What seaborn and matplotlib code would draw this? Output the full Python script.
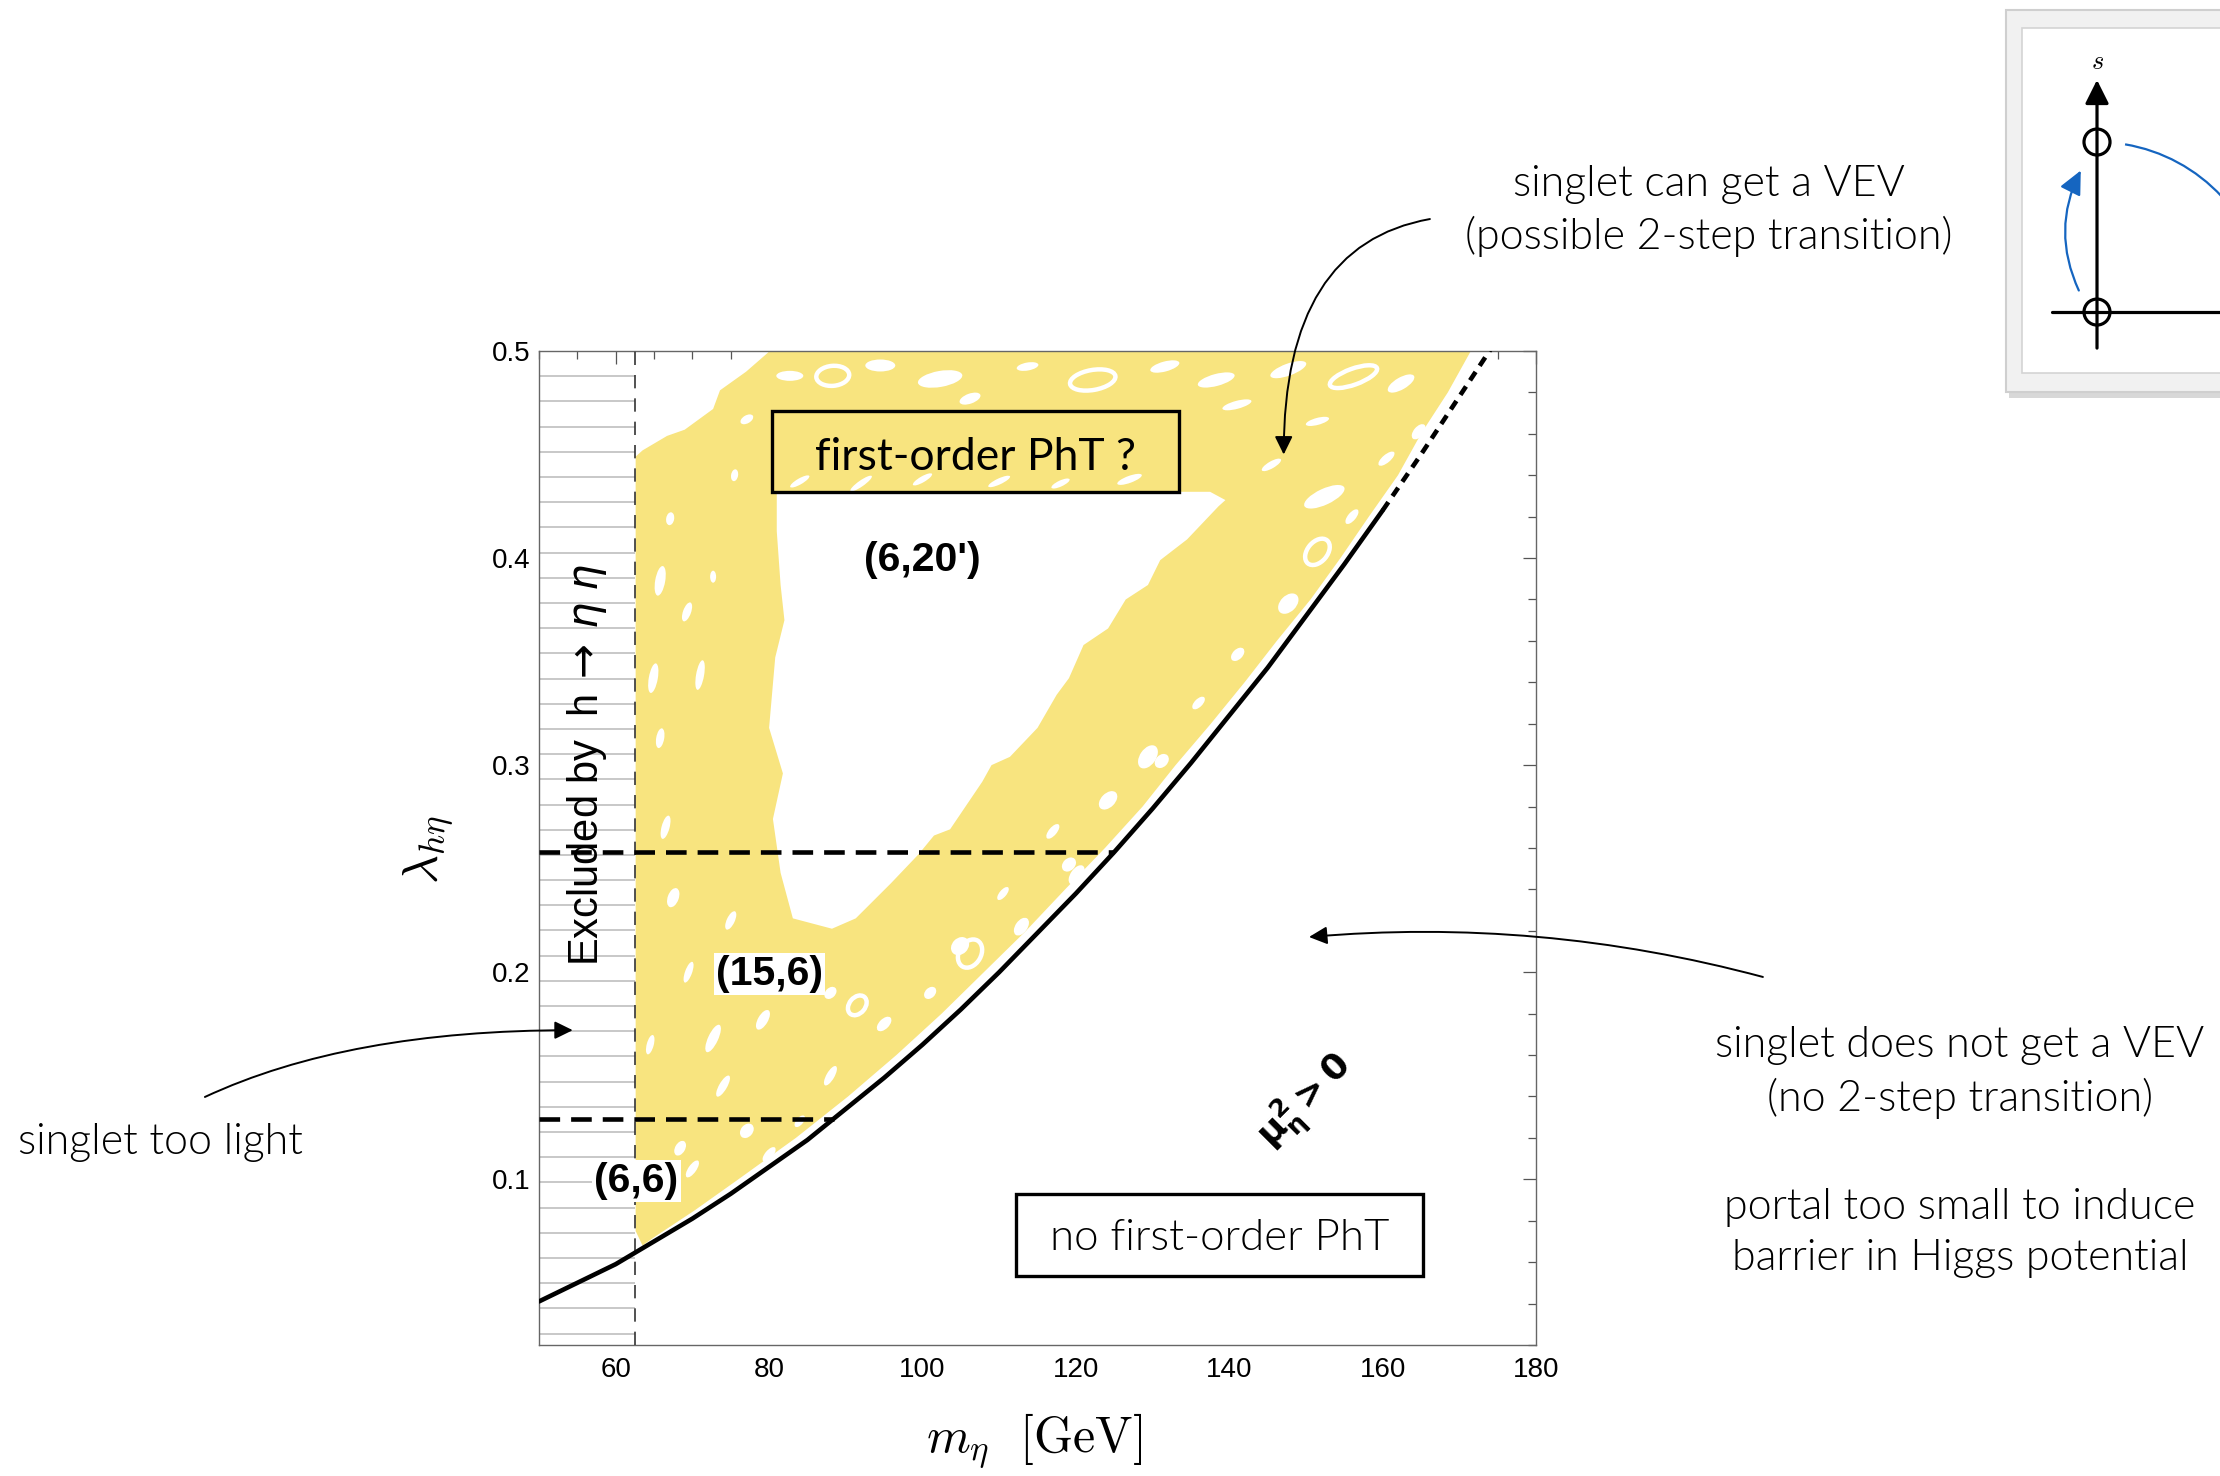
import numpy as np
import pandas as pd
import matplotlib
matplotlib.use("Agg")
import matplotlib.pyplot as plt
import seaborn as sns
from matplotlib.patches import Rectangle, Ellipse, Circle, Arc, FancyArrowPatch
from matplotlib.transforms import ScaledTranslation
from matplotlib import font_manager as fm

# ---------------- data ----------------
curve_m = [50, 55, 60, 65, 70, 75, 80, 85, 90, 95, 100, 105, 110, 115, 120,
           125, 130, 135, 140, 145, 150, 155, 160]
curve_lam = [0.041, 0.050, 0.059, 0.070, 0.081, 0.093, 0.106, 0.119, 0.134,
             0.149, 0.165, 0.182, 0.200, 0.219, 0.238, 0.258, 0.279, 0.301,
             0.324, 0.347, 0.372, 0.397, 0.423]
dotted_m = [160, 165, 170, 175]
dotted_lam = [0.423, 0.450, 0.478, 0.506]

kin_limit = 62.5                    # m_h / 2
dash_levels = [0.258, 0.129]
dash_ends = [125.0, 88.4]

# yellow (first-order PhT) region: outer boundary
region_outer_m = [62.6, 62.6, 63.5, 66.7, 69.0, 72.7, 73.6, 77.0, 80.1,
                  171.5, 168.5, 165.0, 162.0, 158.2, 154.5, 150.6, 146.2,
                  142.0, 137.6, 133.0, 128.7, 123.8, 118.6, 113.5, 108.0,
                  102.5, 96.6, 90.3, 83.5, 76.0, 70.3, 65.0, 63.5]
region_outer_lam = [0.075, 0.449, 0.452, 0.459, 0.462, 0.472, 0.481, 0.490,
                    0.500, 0.500, 0.480, 0.460, 0.440, 0.420, 0.400, 0.380,
                    0.360, 0.340, 0.320, 0.300, 0.280, 0.260, 0.240, 0.220,
                    0.200, 0.180, 0.160, 0.140, 0.120, 0.100, 0.085, 0.072,
                    0.068]
# inner white hole
hole_m = [81.0, 137.5, 139.5, 138.6, 134.5, 131.0, 129.4, 126.5, 124.2, 121.0,
          119.1, 117.5, 115.0, 111.4, 109.0, 107.8, 103.6, 101.5, 99.5, 95.9,
          91.3, 88.2, 83.1, 81.5, 80.5, 81.8, 80.0, 80.8, 82.0, 81.5, 81.0]
hole_lam = [0.432, 0.432, 0.428, 0.425, 0.409, 0.399, 0.387, 0.380, 0.366,
            0.358, 0.342, 0.334, 0.318, 0.304, 0.300, 0.292, 0.269, 0.266,
            0.257, 0.243, 0.226, 0.221, 0.226, 0.248, 0.274, 0.296, 0.318,
            0.352, 0.370, 0.387, 0.413]

# white speckles inside the yellow band (centre m, centre lambda, long, short, angle)
blob_m = [82.7, 94.5, 102.3, 106.2, 77.1, 113.7, 131.6, 138.3, 147.7, 162.4,
          164.7, 151.5, 152.4, 147.7, 141.1, 131.2, 129.4, 124.2, 120.1, 112.9,
          119.1, 67.1, 72.7, 65.8, 69.3, 64.9, 71.0, 65.8, 67.5, 72.7, 79.2,
          74.0, 68.4, 77.1, 98.8, 104.9,
          84.0, 92.0, 100.0, 110.0, 118.0, 127.0, 141.0, 145.5, 160.5, 156.0,
          136.0, 117.0, 110.5, 88.0, 84.5, 66.5, 75.5,
          66.0, 70.0, 80.0, 84.0, 64.5, 69.5, 75.0, 88.0, 95.0, 101.0, 97.5,
          104.0, 110.0, 115.5]
blob_lam = [0.488, 0.493, 0.4865, 0.477, 0.467, 0.4925, 0.4925, 0.486, 0.491,
            0.4843, 0.461, 0.466, 0.4296, 0.378, 0.3535, 0.302, 0.304, 0.283,
            0.247, 0.222, 0.252, 0.419, 0.391, 0.389, 0.374, 0.342, 0.3435,
            0.313, 0.236, 0.168, 0.177, 0.145, 0.115, 0.1234, 0.159, 0.2126,
            0.437, 0.436, 0.438, 0.437, 0.436, 0.438, 0.474, 0.445, 0.448,
            0.420, 0.330, 0.268, 0.238, 0.150, 0.105, 0.270, 0.440,
            0.095, 0.105, 0.112, 0.128, 0.165, 0.200, 0.225, 0.190, 0.175,
            0.190, 0.145, 0.165, 0.190, 0.210]
blob_long = [27, 30, 45, 22, 14, 22, 30, 38, 38, 30, 18, 24, 44, 24, 16, 16, 26,
             22, 22, 20, 16, 13, 12, 30, 20, 30, 30, 20, 20, 30, 22, 24, 16, 16,
             20, 20,
             22, 26, 22, 24, 20, 26, 30, 22, 20, 18, 16, 18, 16, 22, 18, 24, 12,
             16, 20, 18, 14, 20, 22, 20, 14, 18, 14, 20, 22, 18, 22]
blob_short = [10, 12, 16, 10, 8, 8, 10, 12, 12, 12, 10, 7, 16, 16, 10, 12, 16,
              14, 12, 12, 12, 8, 6, 10, 8, 9, 8, 8, 11, 10, 10, 8, 10, 12, 16, 16,
              6, 6, 6, 6, 6, 7, 8, 7, 8, 8, 8, 8, 7, 8, 8, 8, 7,
              8, 8, 8, 7, 7, 7, 8, 10, 10, 10, 8, 8, 8, 9]
blob_angle = [0, 0, 10, 20, 30, 10, 15, 15, 20, 30, 50, 15, 25, 45, 45, 45, 55,
              45, 55, 55, 45, 80, 90, 80, 70, 80, 80, 80, 70, 65, 60, 60, 60, 50,
              45, 45,
              30, 35, 30, 25, 25, 20, 15, 30, 40, 50, 45, 50, 50, 60, 55, 75, 80,
              60, 55, 50, 50, 75, 70, 65, 45, 45, 45, 45, 45, 45, 45]
ring_m = [88.3, 122.2, 156.2, 151.5, 106.2, 91.5]
ring_lam = [0.488, 0.486, 0.4876, 0.403, 0.209, 0.184]
ring_long = [33, 46, 50, 30, 30, 22]
ring_short = [20, 20, 16, 20, 22, 16]
ring_angle = [5, 10, 20, 50, 60, 50]

xticks = [60, 80, 100, 120, 140, 160, 180]
yticks = [0.1, 0.2, 0.3, 0.4, 0.5]
ytick_labels = ["0.1", "0.2", "0.3", "0.4", "0.5"]

region_labels = ["(6,20')", "(15,6)", "(6,6)"]
region_label_m = [100.0, 80.0, 62.7]
region_label_lam = [0.399, 0.199, 0.099]

YELLOW = "#F8E47F"
BLUE = "#1565C0"

# ---------------- style ----------------
sns.set_theme(style="white")
plt.rcParams["font.family"] = ["Liberation Sans", "DejaVu Sans"]
plt.rcParams["mathtext.fontset"] = "dejavusans"
plt.rcParams["text.color"] = "black"
plt.rcParams["axes.labelcolor"] = "black"

lato_weights = {f.weight for f in fm.fontManager.ttflist if f.name == "Lato"}
LIGHT_W = 300 if 300 in lato_weights else 400
GILL = dict(family="Lato", weight=LIGHT_W, color="black")

fig = plt.figure(figsize=(22.2, 14.76), dpi=100)
ax = fig.add_axes([0.2428, 0.0888, 0.4491, 0.6734])
ax.set_xlim(50, 180)
ax.set_ylim(0.02, 0.5)
ax.set_autoscale_on(False)

# hatched "too light" strip
hatch_levels = np.linspace(0.0255, 0.4878, 39)
ax.hlines(hatch_levels, 50, kin_limit, colors="#b9b9b9", lw=1.1, zorder=1)

# yellow region, hole and speckles
ax.fill(region_outer_m, region_outer_lam, color=YELLOW, lw=0, zorder=1.2)
ax.fill(hole_m, hole_lam, color="white", lw=0, zorder=1.3)
for m, l, L, S, a in zip(blob_m, blob_lam, blob_long, blob_short, blob_angle):
    e = Ellipse((0, 0), L, S, angle=a, fc="white", ec="none", zorder=1.4,
                transform=ScaledTranslation(m, l, ax.transData))
    ax.add_patch(e)
for m, l, L, S, a in zip(ring_m, ring_lam, ring_long, ring_short, ring_angle):
    e = Ellipse((0, 0), L, S, angle=a, fill=False, ec="white", lw=3.2, zorder=1.4,
                transform=ScaledTranslation(m, l, ax.transData))
    ax.add_patch(e)

# lines
ax.axvline(kin_limit, color="#333333", lw=1.2, linestyle=(0, (8, 6)), zorder=3)
df = pd.DataFrame({"m": curve_m, "lam": curve_lam})
sns.lineplot(data=df, x="m", y="lam", ax=ax, color="black", lw=3.3, zorder=4,
             estimator=None)
ax.plot(dotted_m, dotted_lam, color="black", lw=3.3, linestyle=(0, (2.2, 1.6)),
        dash_capstyle="butt", zorder=4)
ax.hlines(dash_levels, 50, dash_ends, colors="black", lw=3.3,
          linestyles=(0, (4.5, 2.4)), zorder=4)

# boxes
ax.add_patch(Rectangle((80.4, 0.432), 53.0, 0.039, fill=False, ec="black",
                       lw=2.4, zorder=5))
ax.text(106.9, 0.4485, "first-order PhT ?", ha="center", va="center",
        fontsize=32, family="Lato", weight="normal", color="black", zorder=6)
ax.add_patch(Rectangle((112.2, 0.0535), 53.1, 0.0395, fill=False, ec="black",
                       lw=2.4, zorder=5))
ax.text(138.75, 0.0712, "no first-order PhT", ha="center", va="center",
        fontsize=31.5, zorder=6, **GILL)

# region labels
for i, (txt, m, l) in enumerate(zip(region_labels, region_label_m, region_label_lam)):
    kw = {}
    if i > 0:
        kw["bbox"] = dict(fc="white", ec="none", pad=1.5)
    ax.text(m, l, txt, ha="center", va="center", fontsize=29.5, fontweight="bold",
            color="black", zorder=6, **kw)

ax.text(150.0, 0.1374, r"$\mathbf{\mu^2_\eta > 0}$", rotation=45, ha="center",
        va="center", fontsize=26, color="black", zorder=6,
        math_fontfamily="dejavusans")
ax.text(56.3, 0.300, r"Excluded by  h$\,\rightarrow\,\eta\;\eta$", rotation=90,
        ha="center", va="center", fontsize=30, color="black", zorder=6,
        math_fontfamily="dejavusans")

# axes styling
for s in ax.spines.values():
    s.set_color("#666666")
    s.set_linewidth(1.0)
ax.set_xticks(xticks)
ax.set_xticks(np.arange(50, 181, 5), minor=True)
ax.set_yticks(yticks)
ax.set_yticklabels(ytick_labels)
ax.set_yticks(np.arange(0.02, 0.5, 0.02), minor=True)
ax.tick_params(which="both", direction="in", top=True, right=True,
               color="#555555", labelcolor="black", labelsize=20)
ax.tick_params(which="major", length=9.5, width=0.9)
ax.tick_params(which="minor", length=5.5, width=0.9)
ax.tick_params(axis="x", pad=9)
ax.tick_params(axis="y", pad=6)

ax.set_xlabel(r"$m_\eta\ \ [\mathrm{GeV}]$", fontsize=36, math_fontfamily="cm",
              va="center", color="black")
ax.xaxis.set_label_coords(0.4965, -0.0966)
ax.set_ylabel(r"$\lambda_{h\eta}$", fontsize=36, math_fontfamily="cm",
              va="center", color="black")
ax.yaxis.set_label_coords(-0.111, 0.498)

# ---------------- annotations outside ----------------
fig.text(0.7698, 0.8572, "singlet can get a VEV\n(possible 2-step transition)",
         ha="center", va="center", fontsize=31, linespacing=1.35, **GILL)
fig.text(0.0721, 0.2262, "singlet too light", ha="center", va="center",
         fontsize=31, **GILL)
fig.text(0.8829, 0.2733, "singlet does not get a VEV\n(no 2-step transition)",
         ha="center", va="center", fontsize=31, linespacing=1.38, **GILL)
fig.text(0.8829, 0.1648, "portal too small to induce\nbarrier in Higgs potential",
         ha="center", va="center", fontsize=31, linespacing=1.38, **GILL)

arrow_kw = dict(arrowstyle="-|>,head_length=0.55,head_width=0.27",
                mutation_scale=20, lw=1.4, color="black", shrinkA=0, shrinkB=0)
ax.annotate("", xy=(147.1, 0.450), xycoords="data", xytext=(0.6441, 0.8516),
            textcoords="figure fraction", annotation_clip=False,
            arrowprops=dict(connectionstyle="angle3,angleA=10,angleB=90", **arrow_kw))
ax.annotate("", xy=(54.4, 0.172), xycoords="data", xytext=(0.0923, 0.2568),
            textcoords="figure fraction", annotation_clip=False,
            arrowprops=dict(connectionstyle="angle3,angleA=25,angleB=0", **arrow_kw))
ax.annotate("", xy=(150.4, 0.217), xycoords="data", xytext=(0.7941, 0.3381),
            textcoords="figure fraction", annotation_clip=False,
            arrowprops=dict(connectionstyle="angle3,angleA=-15,angleB=5", **arrow_kw))

# ---------------- inset sketch (field space) ----------------
ax2 = fig.add_axes([0.8964, 0.7154, 0.1036, 0.2846])
ax2.set_xlim(-0.6294, 0.7235)
ax2.set_ylim(-0.6353, 1.8353)
ax2.axis("off")
ax2.add_patch(Rectangle((-0.515, -0.505), 2.0, 2.25, fc="#c8c8c8", ec="none",
                        alpha=0.7, zorder=0))
ax2.add_patch(Rectangle((-0.5353, -0.4706), 2.0, 2.2466, fc="#f1f1f1",
                        ec="#cfcfcf", lw=1.5, zorder=1))
ax2.add_patch(Rectangle((-0.441, -0.359), 2.0, 2.03, fc="white", ec="#d4d4d4",
                        lw=1.2, zorder=2))
ax2.plot([-0.265, 1.0], [0, 0], color="black", lw=2.3, zorder=3)
ax2.annotate("", xy=(0, 1.365), xytext=(0, -0.212),
             arrowprops=dict(arrowstyle="-|>,head_length=0.72,head_width=0.36",
                             mutation_scale=20, lw=2.3, color="black",
                             shrinkA=0, shrinkB=0), zorder=3)
for cy in (0.0, 1.0):
    ax2.add_patch(Circle((0, cy), 0.0765, fill=False, ec="black", lw=2.3, zorder=4))
ax2.text(0, 1.47, r"$s$", ha="center", va="center", fontsize=19,
         math_fontfamily="cm", color="black", zorder=4)
ax2.add_patch(FancyArrowPatch((-0.1, 0.112), (-0.088, 0.847),
                              connectionstyle="arc3,rad=-0.25",
                              arrowstyle="-|>,head_length=0.8,head_width=0.38",
                              mutation_scale=18, color=BLUE, lw=1.6, zorder=4))
ax2.add_patch(Arc((0, 0), 2.0, 2.0, theta1=5, theta2=80.5, color=BLUE, lw=1.6,
                  zorder=4))

fig.savefig("out.png", dpi=100)
